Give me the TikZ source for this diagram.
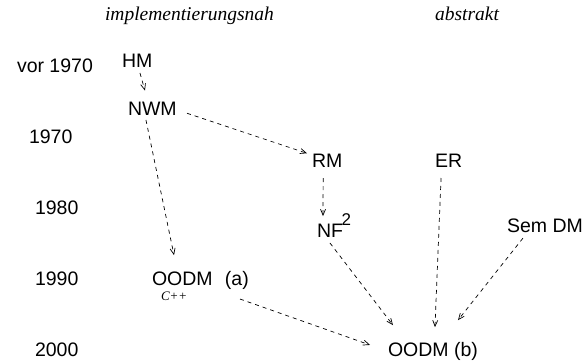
\documentclass[tikz,border=0pt]{standalone}
\usepackage{fontspec}
\setmainfont{Liberation Sans}
\newfontfamily\hdrfont{Liberation Serif}
\usetikzlibrary{arrows.meta}
\begin{document}
\begin{tikzpicture}[x=1pt,y=-1pt,
  lbl/.style={anchor=base west,inner sep=0pt,outer sep=0pt,font=\fontsize{19.5}{22}\selectfont},
  hdr/.style={anchor=base west,inner sep=0pt,outer sep=0pt,font=\hdrfont\itshape\fontsize{19.5}{22}\selectfont},
  cpp/.style={anchor=base west,inner sep=0pt,outer sep=0pt,font=\hdrfont\itshape\fontsize{13}{15}\selectfont},
  arr/.style={draw,line width=0.7pt,dash pattern=on 4pt off 4pt,-{Straight Barb[length=6pt,width=5pt]}}]
\useasboundingbox (0,0) rectangle (585,361);
% headers
\node[hdr] (h1) at (105,21) {implementierungsnah};
\node[hdr] (h2) at (435,21) {abstrakt};
% years
\node[lbl] (y0) at (17,72) {vor 1970};
\node[lbl] (y1) at (29,143) {1970};
\node[lbl] (y2) at (35,214) {1980};
\node[lbl] (y3) at (35,285) {1990};
\node[lbl] (y4) at (35,356) {2000};
% models
\node[lbl] (HM) at (122,67) {HM};
\node[lbl] (NWM) at (128,115) {NWM};
\node[lbl] (RM) at (312,167) {RM};
\node[lbl] (ER) at (435,167) {ER};
\node[lbl] (NF) at (317,237) {NF\kern-1.5pt\raisebox{12pt}{\fontsize{17}{17}\selectfont 2}};
\node[lbl] (SDM) at (507,232) {Sem DM};
\node[lbl] (OA) at (152,285) {OODM\hspace{12.3pt}(a)};
\node[cpp] (CPP) at (161,300) {C++};
\node[lbl] (OB) at (388,356) {OODM (b)};
% connectors
\draw[arr] ([shift={(2.8,6)}]HM.south) -- ([shift={(-7.4,-11)}]NWM.north);
\draw[arr] ([shift={(10.3,5)}]NWM.east) -- ([shift={(-5,-7)}]RM.west);
\draw[arr] ([shift={(-6.4,5)}]NWM.south) -- ([shift={(22,-15.7)}]OA.north west);
\draw[arr] ([shift={(-4,11)}]RM.south) -- ([shift={(6,3)}]NF.north west);
\draw[arr] ([shift={(-4,6)}]NF.south) -- ([shift={(5,-16.7)}]OB.north west);
\draw[arr] ([shift={(-7.5,11)}]ER.south) -- ([shift={(2,-14.7)}]OB.north);
\draw[arr] ([shift={(-22,6)}]SDM.south) -- ([shift={(25,-21.7)}]OB.north);
\draw[arr] ([shift={(-8.8,10)}]OA.south east) -- ([shift={(-18,-6)}]OB.west);
\end{tikzpicture}
\end{document}
